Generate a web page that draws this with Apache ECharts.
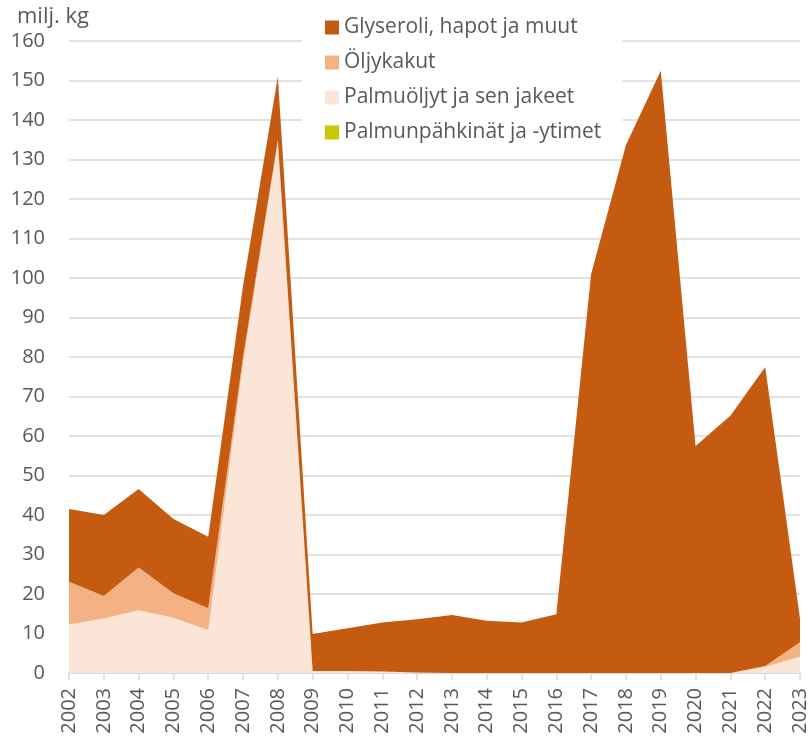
<!DOCTYPE html>
<html>
<head>
<meta charset="utf-8">
<script src="https://cdn.jsdelivr.net/npm/echarts@6/dist/echarts.min.js"></script>
<style>
html,body{margin:0;padding:0;background:#fff;}
#chart{width:810px;height:737px;}
</style>
</head>
<body>
<div id="chart"></div>
<script>
const years = ['2002','2003','2004','2005','2006','2007','2008','2009','2010','2011','2012','2013','2014','2015','2016','2017','2018','2019','2020','2021','2022','2023'];
const palmunpahkinat = [0,0,0,0,0,0,0,0,0,0,0,0,0,0,0,0,0,0,0,0,0,0];
const palmuoljyt = [12.3,13.8,15.9,14.0,10.9,78.7,134.5,0.5,0.5,0.4,0.1,0,0,0,0,0,0,0,0,0,1.6,4.1];
const oljykakut = [10.8,5.7,10.8,6.2,5.5,1.3,0.5,0,0,0,0,0,0,0,0,0,0,0,0,0,0.2,3.7];
const glyseroli = [18.4,20.5,19.9,18.8,18.1,18.0,16.0,9.4,10.8,12.4,13.5,14.7,13.2,12.8,14.9,101.0,133.7,152.5,57.5,65.1,75.7,6.0];
const yTicks = {min:0, max:160, interval:10};
const unitLabel = 'milj. kg';

const font = 'Open Sans';
const txt = '#595959';
function areaSeries(name, data, color){
  return {
    name: name, type:'line', stack:'total', data:data,
    showSymbol:false, symbol:'none',
    lineStyle:{width:0, color:color},
    itemStyle:{color:color},
    areaStyle:{color:color, opacity:1},
    emphasis:{disabled:true}
  };
}
const chart = echarts.init(document.getElementById('chart'), null, {renderer:'canvas'});
chart.setOption({
  animation:false,
  backgroundColor:'#fff',
  textStyle:{fontFamily:font},
  grid:{left:69, right:6, top:41, bottom:64, containLabel:false},
  legend:{
    orient:'vertical', left:302, top:0,
    padding:[17,21,11,23],
    backgroundColor:'#fff',
    itemWidth:14, itemHeight:14, itemGap:14,
    icon:'rect',
    textStyle:{fontFamily:font, fontSize:21, color:txt, lineHeight:20},
    data:['Glyseroli, hapot ja muut','Öljykakut','Palmuöljyt ja sen jakeet','Palmunpähkinät ja -ytimet'],
    z:10
  },
  graphic:[{type:'text', left:17, top:6, style:{text:unitLabel, font:'22px "Open Sans"', fill:txt}}],
  xAxis:{
    type:'category', data:years, boundaryGap:false,
    axisLine:{lineStyle:{color:'#d9d9d9', width:1.5}},
    axisTick:{show:true, length:7, lineStyle:{color:'#d9d9d9', width:1.5}},
    axisLabel:{rotate:90, color:txt, fontSize:20, fontFamily:font, margin:15, interval:0}
  },
  yAxis:{
    type:'value', min:yTicks.min, max:yTicks.max, interval:yTicks.interval,
    axisLine:{show:false}, axisTick:{show:false},
    splitLine:{lineStyle:{color:'#d9d9d9', width:1.5}},
    axisLabel:{color:txt, fontSize:20, fontFamily:font, margin:24}
  },
  series:[
    areaSeries('Palmunpähkinät ja -ytimet', palmunpahkinat, '#c9c900'),
    areaSeries('Palmuöljyt ja sen jakeet', palmuoljyt, '#fbe5d6'),
    areaSeries('Öljykakut', oljykakut, '#f4b183'),
    areaSeries('Glyseroli, hapot ja muut', glyseroli, '#c55a11')
  ]
});
</script>
</body>
</html>
